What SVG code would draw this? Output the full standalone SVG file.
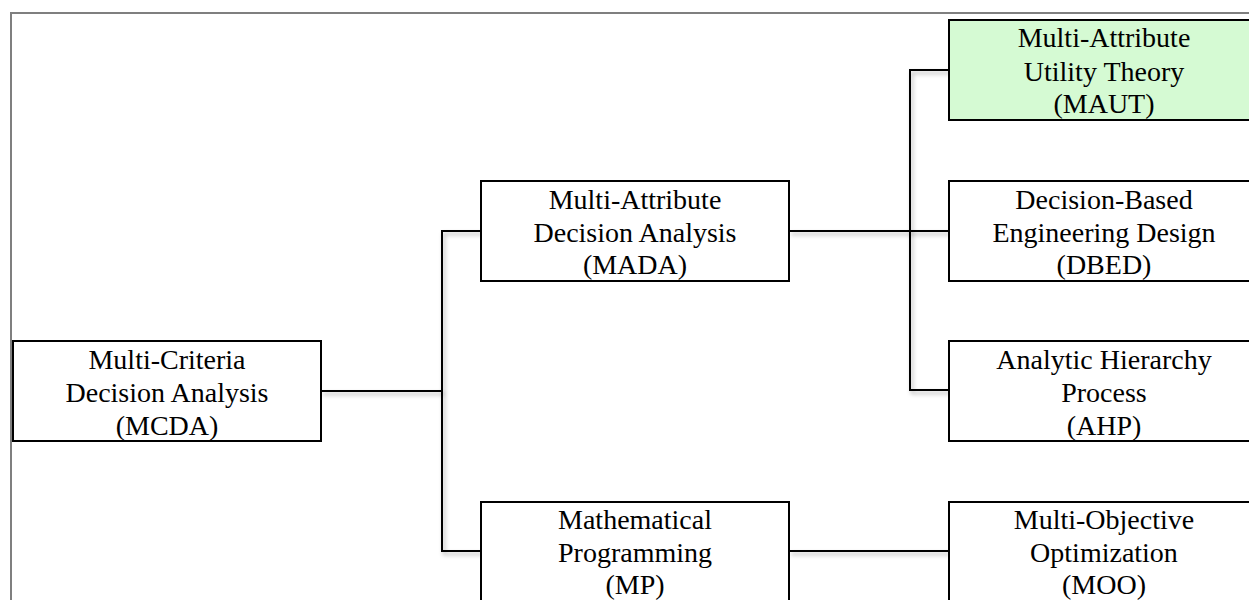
<svg xmlns="http://www.w3.org/2000/svg" width="1249" height="600" viewBox="0 0 1249 600">
  <style>
    .box { fill: #ffffff; stroke: #000000; stroke-width: 2; }
    .box.hl { fill: #d5fad3; }
    .lbl { font-size: 28px; fill: #000000; text-anchor: middle; }
    .wire { fill: none; stroke: #000000; stroke-width: 2; filter: url(#lineShadow); }
    .frame { fill: none; stroke: #7f7f7f; stroke-width: 2; }
  </style>
  <defs>
    <!-- soft drop shadow under the connector lines; user-space region so flat lines still render -->
    <filter id="lineShadow" filterUnits="userSpaceOnUse" x="0" y="0" width="1249" height="600">
      <feDropShadow dx="2" dy="3" stdDeviation="2" flood-color="#000000" flood-opacity="0.3"/>
    </filter>
  </defs>

  <rect width="1249" height="600" fill="#ffffff"/>

  <!-- outer frame -->
  <path class="frame" d="M11 600 V13 H1249"/>

  <!-- connectors -->
  <g id="connectors">
    <path class="wire" d="M321 391 H442"/>
    <path class="wire" d="M481 231 H442 V551 H481"/>
    <path class="wire" d="M789 231 H949"/>
    <path class="wire" d="M949 70 H910 V390 H949"/>
    <path class="wire" d="M789 551 H949"/>
  </g>

  <g font-family="'Liberation Serif', 'Times New Roman', 'DejaVu Serif', serif">
    <g id="mcda">
      <rect class="box" x="13" y="341" width="308" height="100"/>
      <text class="lbl" x="167" y="369">Multi-Criteria</text>
      <text class="lbl" x="167" y="402">Decision Analysis</text>
      <text class="lbl" x="167" y="434.5">(MCDA)</text>
    </g>

    <g id="mada">
      <rect class="box" x="481" y="181" width="308" height="100"/>
      <text class="lbl" x="635" y="209">Multi-Attribute</text>
      <text class="lbl" x="635" y="241.5">Decision Analysis</text>
      <text class="lbl" x="635" y="274">(MADA)</text>
    </g>

    <g id="mp">
      <rect class="box" x="481" y="502" width="308" height="110"/>
      <text class="lbl" x="635" y="529">Mathematical</text>
      <text class="lbl" x="635" y="562">Programming</text>
      <text class="lbl" x="635" y="594">(MP)</text>
    </g>

    <g id="maut">
      <rect class="box hl" x="949" y="20" width="310" height="100"/>
      <text class="lbl" x="1104" y="47">Multi-Attribute</text>
      <text class="lbl" x="1104" y="80.5">Utility Theory</text>
      <text class="lbl" x="1104" y="113">(MAUT)</text>
    </g>

    <g id="dbed">
      <rect class="box" x="949" y="181" width="310" height="100"/>
      <text class="lbl" x="1104" y="209">Decision-Based</text>
      <text class="lbl" x="1104" y="241.5">Engineering Design</text>
      <text class="lbl" x="1104" y="274">(DBED)</text>
    </g>

    <g id="ahp">
      <rect class="box" x="949" y="341" width="310" height="100"/>
      <text class="lbl" x="1104" y="369">Analytic Hierarchy</text>
      <text class="lbl" x="1104" y="402">Process</text>
      <text class="lbl" x="1104" y="434.5">(AHP)</text>
    </g>

    <g id="moo">
      <rect class="box" x="949" y="502" width="310" height="110"/>
      <text class="lbl" x="1104" y="529">Multi-Objective</text>
      <text class="lbl" x="1104" y="562">Optimization</text>
      <text class="lbl" x="1104" y="594">(MOO)</text>
    </g>
  </g>
</svg>
